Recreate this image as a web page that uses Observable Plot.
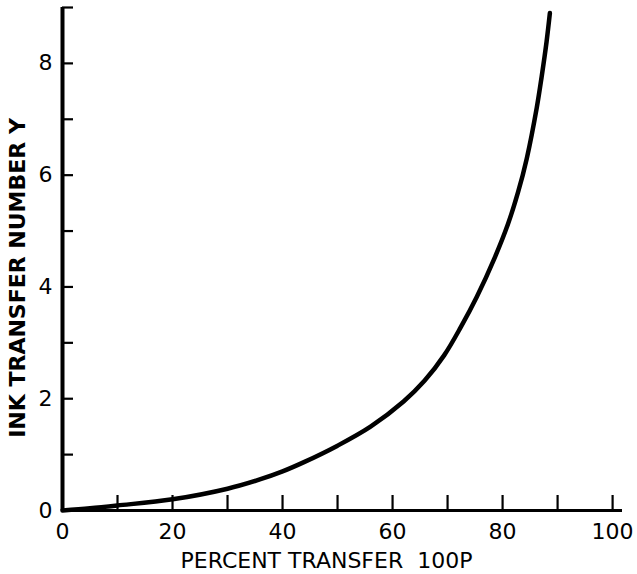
<!DOCTYPE html>
<html>
<head>
<meta charset="utf-8">
<script src="https://cdn.jsdelivr.net/npm/d3@7"></script>
<script src="https://cdn.jsdelivr.net/npm/@observablehq/plot@0.6"></script>
<style>
  html, body { margin: 0; padding: 0; background: #fff; }
</style>
</head>
<body>
<div id="chart"></div>
<script>
// Percent transfer (100P) and ink transfer number Y
const percent = [0, 5, 10, 20, 30, 36, 40, 44, 50, 56, 62, 65.8, 69.4, 72.4, 75.3, 78.6, 81, 82.8, 84.4, 86.2, 87.1, 88, 88.6];
const inkY    = [0, 0.04, 0.09, 0.20, 0.39, 0.56, 0.70, 0.87, 1.16, 1.50, 1.95, 2.32, 2.78, 3.28, 3.82, 4.53, 5.13, 5.69, 6.30, 7.20, 7.76, 8.39, 8.90];

const xTicks = [0, 10, 20, 30, 40, 50, 60, 70, 80, 90, 100];
const xTickLabels = [0, 20, 40, 60, 80, 100];
const yTicks = [1, 2, 3, 4, 5, 6, 7, 8, 9];
const yTickLabels = [0, 2, 4, 6, 8];

const xTitle = "PERCENT TRANSFER  100P";
const yTitle = "INK TRANSFER NUMBER Y";

const data = percent.map((p, i) => ({p, y: inkY[i]}));

const chart = Plot.plot({
  width: 637,
  height: 574,
  marginLeft: 62,
  marginRight: 15,
  marginTop: 7,
  marginBottom: 64,
  style: {fontFamily: "'DejaVu Sans', sans-serif", fontSize: "22px", color: "#000", background: "#fff"},
  x: {domain: [0, 101.8]},
  y: {domain: [0, 9]},
  marks: [
    // tick marks pointing inward
    Plot.axisX({ticks: xTicks, tickSize: 15, dy: -15, text: null, label: null, strokeWidth: 2.2}),
    Plot.axisY({ticks: yTicks, tickSize: 11, dx: 11, text: null, label: null, strokeWidth: 2.2}),
    // tick labels
    Plot.axisX({ticks: xTickLabels, tickSize: 0, tickPadding: 13, label: null, fontSize: 22}),
    Plot.axisY({ticks: yTickLabels, tickSize: 0, tickPadding: 10, label: null, fontSize: 22}),
    // axis lines
    Plot.ruleY([0], {strokeWidth: 3}),
    Plot.ruleX([0], {strokeWidth: 4}),
    // curve
    Plot.line(data, {x: "p", y: "y", curve: "catmull-rom", strokeWidth: 4.5, stroke: "#000"}),
    // axis titles
    Plot.text([xTitle], {frameAnchor: "bottom", dx: -16, dy: 50, lineAnchor: "middle", textAnchor: "middle", fontSize: 22, fill: "#000", style: "letter-spacing: 4px"}),
    Plot.text([yTitle], {frameAnchor: "left", rotate: -90, dx: -44.5, dy: 19, lineAnchor: "middle", textAnchor: "middle", fontSize: 22, fontWeight: "bold", fill: "#000", style: "letter-spacing: 0.5px"})
  ]
});

document.getElementById("chart").appendChild(chart);
</script>
</body>
</html>
